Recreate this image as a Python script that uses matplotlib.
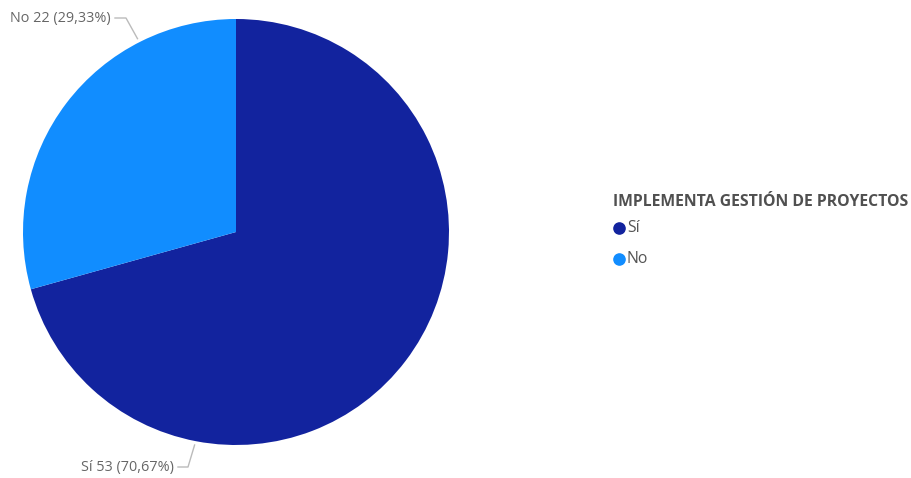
import matplotlib.pyplot as plt
import numpy as np

categories = ["Sí", "No"]
counts = [53, 22]
colors = ["#12239E", "#118DFF"]
legend_title = "IMPLEMENTA GESTIÓN DE PROYECTOS"

total = sum(counts)
pcts = [c / total * 100 for c in counts]

W, H = 911, 478
fig = plt.figure(figsize=(W / 100, H / 100), dpi=100)
ax = fig.add_axes([0, 0, 1, 1])

cx, cy, r = 236, 246, 213
wedges, _ = ax.pie(counts, colors=colors, startangle=90, counterclock=False,
                   center=(cx, cy), radius=r, frame=True,
                   wedgeprops=dict(linewidth=0))
ax.set_xlim(0, W)
ax.set_ylim(0, H)
ax.set_aspect("equal")
ax.axis("off")

# leader lines and data labels
font = ["Open Sans", "DejaVu Sans"]
lab_color = "#666666"
line_color = "#BBBBBB"
label_angles = {"No": 117, "Sí": 259}
label_pos = {"No": (111, 460, 126), "Sí": (174, 11, 188)}
for cat, n, p in zip(categories, counts, pcts):
    ang = np.deg2rad(label_angles[cat])
    px = cx + (r + 4) * np.cos(ang)
    py = cy + (r + 4) * np.sin(ang)
    tx, ty, kx = label_pos[cat]
    ax.plot([tx + 4, kx, px], [ty, ty, py], color=line_color, lw=1)
    txt = f"{cat} {n} ({p:.2f}%)".replace(".", ",")
    ax.text(tx, ty, txt, ha="right", va="center", fontsize=10.4,
            color=lab_color, family=font)

# legend
ax.text(613, H - 202, legend_title, ha="left", va="center", fontsize=11.3,
        fontweight="bold", color="#505050", family=font)
for i, (cat, col) in enumerate(zip(categories, colors)):
    y = H - (228 + 31 * i)
    ax.scatter([619], [y], s=65, color=col, zorder=3)
    ax.text(627, y, cat, ha="left", va="center", fontsize=11.3,
            color="#555555", family=font)

fig.savefig("out.png", dpi=100)
